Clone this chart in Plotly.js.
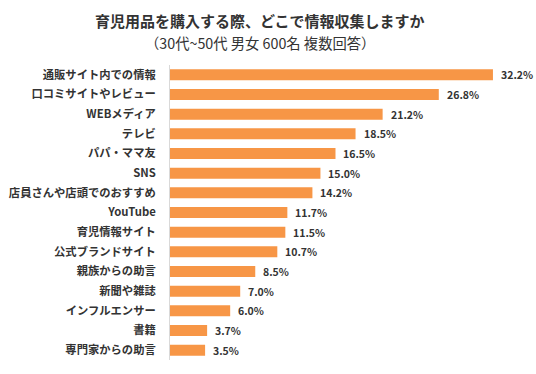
<!DOCTYPE html>
<html><head><meta charset="utf-8">
<script src="https://cdn.plot.ly/plotly-3.0.1.min.js"></script>
<style>html,body{margin:0;padding:0;background:#fff;}#chart{width:536px;height:374px;}</style>
</head><body><div id="chart"></div>
<script>
const categories = ["通販サイト内での情報","口コミサイトやレビュー","WEBメディア","テレビ","パパ・ママ友","SNS","店員さんや店頭でのおすすめ","YouTube","育児情報サイト","公式ブランドサイト","親族からの助言","新聞や雑誌","インフルエンサー","書籍","専門家からの助言"];
const values = [32.2,26.8,21.2,18.5,16.5,15.0,14.2,11.7,11.5,10.7,8.5,7.0,6.0,3.7,3.5];
const titleLine1 = "育児用品を購入する際、どこで情報収集しますか";
const titleLine2 = "（30代~50代 男女 600名 複数回答）";

const font = "Noto Sans CJK JP, Noto Sans, sans-serif";
const trace = {
  type: "bar", orientation: "h", x: values, y: categories,
  marker: {color: "#F79646"}, hoverinfo: "none"
};
const annotations = values.map((v, i) => ({
  x: v, y: categories[i], xref: "x", yref: "y", text: v.toFixed(1) + "%",
  showarrow: false, xanchor: "left", xshift: 6,
  font: {family: font, size: 10.5, color: "#333", weight: "bold"}
}));
annotations.push({
  xref: "paper", yref: "paper", x: 0.266, y: 1.1525, xanchor: "center", yanchor: "middle",
  showarrow: false, text: titleLine1,
  font: {family: font, size: 15, color: "#333", weight: "bold"}
});
annotations.push({
  xref: "paper", yref: "paper", x: 0.266, y: 1.0746, xanchor: "center", yanchor: "middle",
  showarrow: false, text: titleLine2,
  font: {family: font, size: 14.3, color: "#333"}
});
const layout = {
  width: 536, height: 374,
  margin: {l: 170, r: 26, t: 65, b: 14},
  paper_bgcolor: "#fff", plot_bgcolor: "#fff",
  xaxis: {range: [0, 33.9], visible: false, fixedrange: true},
  yaxis: {
    autorange: "reversed", showline: true, linecolor: "#d9d9d9", linewidth: 1,
    ticks: "", ticklabelstandoff: 11, showgrid: false, zeroline: false,
    tickfont: {family: font, size: 11.3, color: "#333", weight: "bold"}
  },
  bargap: 0.44,
  showlegend: false,
  annotations: annotations
};
Plotly.newPlot("chart", [trace], layout, {staticPlot: true});
</script></body></html>
